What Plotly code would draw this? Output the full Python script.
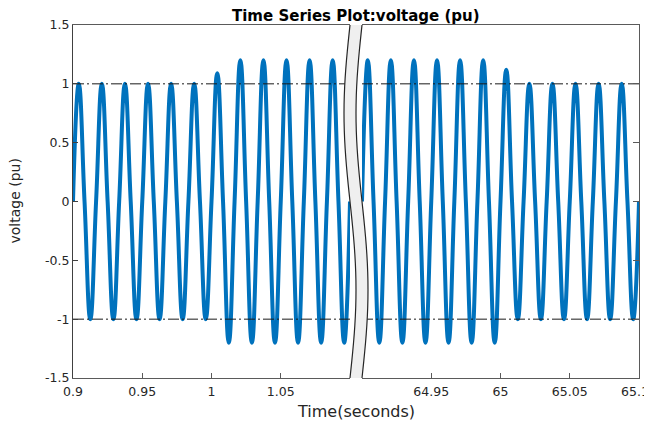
import numpy as np
import plotly.graph_objects as go

# ---- data ----
signal_freq_hz = 60.0
left_range = [0.9, 1.1]
right_range = [64.9, 65.1]

# successive peak / trough values (one per half cycle), left segment 0.9 .. 1.1 s
left_extrema = [1.0, -1.0, 1.0, -1.0, 1.0, -1.0, 1.0, -1.0, 1.0, -1.0, 1.0, -1.0,
                1.09, -1.2, 1.2, -1.2, 1.2, -1.2, 1.2, -1.2, 1.2, -1.2, 1.2, -1.2]
# right segment 64.9 .. 65.1 s
right_extrema = [1.2, -1.2, 1.2, -1.2, 1.2, -1.2, 1.2, -1.2, 1.2, -1.2, 1.2, -1.2,
                 1.12, -1.0, 1.0, -1.0, 1.0, -1.0, 1.0, -1.0, 1.0, -1.0, 1.0, -1.0]

ref_levels = [1.0, -1.0]

left_ticks = [0.9, 0.95, 1.0, 1.05]
left_ticktext = ["0.9", "0.95", "1", "1.05"]
right_ticks = [64.95, 65.0, 65.05, 65.1]
right_ticktext = ["64.95", "65", "65.05", "65.1\u00a0\u00a0"]
y_ticks = [-1.5, -1.0, -0.5, 0.0, 0.5, 1.0, 1.5]
y_ticktext = ["-1.5", "-1", "-0.5", "0", "0.5", "1", "1.5"]


def wave_points(t0, extrema):
    # zero crossings and extrema, every quarter period
    quarter = 1.0 / signal_freq_hz / 4.0
    t, v = [t0], [0.0]
    for i, a in enumerate(extrema):
        t.append(t0 + (2 * i + 1) * quarter)
        v.append(a)
        t.append(t0 + (2 * i + 2) * quarter)
        v.append(0.0)
    return t, v


lt, lv = wave_points(left_range[0], left_extrema)
rt, rv = wave_points(right_range[0], right_extrema)

BLUE = "#0072BD"
AX = "#5a5a5a"
TXT = "#262626"
FONT = "DejaVu Sans, Verdana, sans-serif"

fig = go.Figure()
wave_style = dict(color=BLUE, width=4, shape="spline", smoothing=1.3)
fig.add_trace(go.Scatter(x=lt, y=lv, mode="lines", line=wave_style, xaxis="x", yaxis="y",
                         showlegend=False, hoverinfo="skip"))
fig.add_trace(go.Scatter(x=rt, y=rv, mode="lines", line=wave_style, xaxis="x2", yaxis="y2",
                         showlegend=False, hoverinfo="skip"))
for lvl in ref_levels:
    fig.add_trace(go.Scatter(x=left_range, y=[lvl, lvl], mode="lines",
                             line=dict(color="#1a1a1a", width=1, dash="11px,3px,2px,3px"),
                             xaxis="x", yaxis="y", showlegend=False, hoverinfo="skip"))
    fig.add_trace(go.Scatter(x=right_range, y=[lvl, lvl], mode="lines",
                             line=dict(color="#1a1a1a", width=1, dash="11px,3px,2px,3px"),
                             xaxis="x2", yaxis="y2", showlegend=False, hoverinfo="skip"))

# page body offset (default 8px body margin) -> figure sized to fit the window
OFF = 8
W, H = 652 - OFF, 423 - OFF
# plot area in window pixels: x 73..639, y 25..378
L = 73 - OFF
T = 25 - OFF
pw = 639 - 73
ph = 378 - 25
R = W - L - pw
B = H - T - ph
split_a = (350 - 73) / pw
split_b = (362 - 73) / pw

EPS = 1e-6
tick_font = dict(family=FONT, size=12.5, color=TXT)
common_x = dict(showgrid=False, zeroline=False, showline=True, linecolor=AX, linewidth=1,
                mirror=True, ticks="inside", ticklen=5, tickcolor=AX, tickfont=tick_font,
                automargin=False, ticklabelstandoff=2, ticklabeloverflow="allow")
fig.update_layout(
    width=W, height=H,
    margin=dict(l=L, r=R, t=T, b=B, autoexpand=False),
    paper_bgcolor="white", plot_bgcolor="white",
    xaxis=dict(domain=[0, split_a], range=[left_range[0] - EPS, left_range[1]],
               tickvals=left_ticks, ticktext=left_ticktext, anchor="y", **common_x),
    xaxis2=dict(domain=[split_b, 1], range=[right_range[0], right_range[1] + EPS],
                tickvals=right_ticks, ticktext=right_ticktext, anchor="y2", **common_x),
    yaxis=dict(range=[-1.5 - EPS, 1.5 + EPS], tickvals=y_ticks, ticktext=y_ticktext, anchor="x",
               showgrid=False, zeroline=False, showline=True, linecolor="#404040",
               ticks="inside", ticklen=5, tickcolor="#404040", tickfont=tick_font,
               automargin=False, ticklabeloverflow="allow"),
    yaxis2=dict(range=[-1.5 - EPS, 1.5 + EPS], tickvals=y_ticks, anchor="x2", side="right",
                showticklabels=False, showgrid=False, zeroline=False, showline=True,
                linecolor=AX, ticks="inside", ticklen=6, tickcolor=AX, automargin=False),
)

# break marker: S-shaped grey band (window-pixel geometry -> paper coords)
n = 40
ys = [i / n for i in range(n + 1)]
amp = 6.0
def edge(px_base):
    pts = []
    for s in ys:
        off = -amp * np.sin(2 * np.pi * s)
        px = px_base + off
        py = 25 + s * ph
        pts.append(((px - 73) / pw, (378 - py) / ph))
    return pts

le = edge(350)
re = edge(362)
poly = le + list(reversed(re))
path_fill = "M " + " L ".join(f"{x:.5f},{y:.5f}" for x, y in poly) + " Z"
fig.add_shape(type="path", path=path_fill, xref="paper", yref="paper",
              fillcolor="#efefef", line=dict(width=0), layer="above")
for e in (le, re):
    p = "M " + " L ".join(f"{x:.5f},{y:.5f}" for x, y in e)
    fig.add_shape(type="path", path=p, xref="paper", yref="paper",
                  line=dict(color="#262626", width=1.2), layer="above")

fig.add_annotation(text="<b>Time Series Plot:voltage (pu)</b>", xref="paper", yref="paper",
                   x=0.5, y=1, yanchor="middle", yshift=9, showarrow=False,
                   font=dict(family=FONT, size=15, color="black"))
fig.add_annotation(text="Time(seconds)", xref="paper", yref="paper", x=0.5, y=0,
                   yanchor="middle", yshift=-33, showarrow=False,
                   font=dict(family=FONT, size=16, color=TXT))
fig.add_annotation(text="voltage (pu)", xref="paper", yref="paper", x=0, y=0.5,
                   xanchor="center", xshift=-59, textangle=-90, showarrow=False,
                   font=dict(family=FONT, size=14, color=TXT))

fig.write_html("out.html")
